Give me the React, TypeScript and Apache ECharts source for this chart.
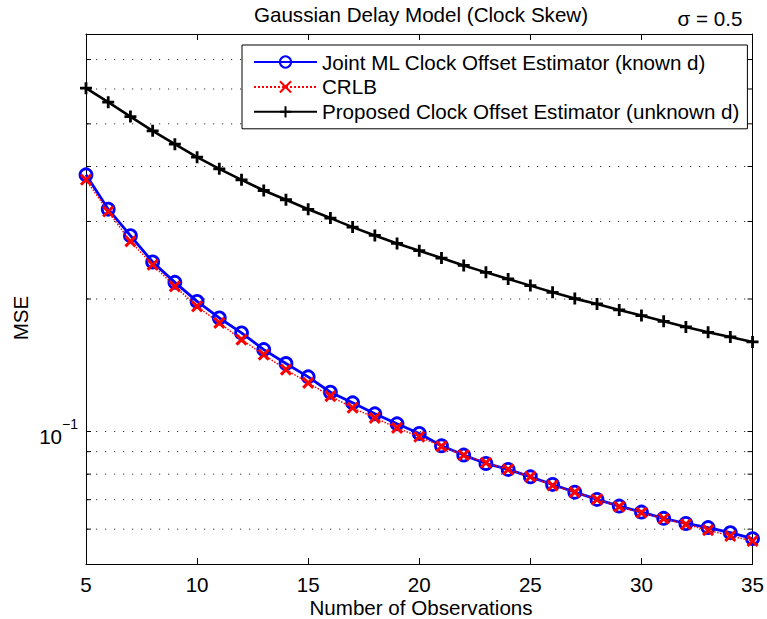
import React, { useEffect, useRef } from "react";
import * as echarts from "echarts";

const observations = [5, 6, 7, 8, 9, 10, 11, 12, 13, 14, 15, 16, 17, 18, 19, 20, 21, 22, 23, 24, 25, 26, 27, 28, 29, 30, 31, 32, 33, 34, 35];

const jointML = [0.383, 0.320, 0.2785, 0.2427, 0.2182, 0.1975, 0.1811, 0.1675, 0.1535, 0.1427, 0.1331, 0.1228, 0.1162, 0.1097, 0.1041, 0.0990, 0.0928, 0.0884, 0.0846, 0.0820, 0.0789, 0.0758, 0.0728, 0.0701, 0.0677, 0.0656, 0.0635, 0.0618, 0.0605, 0.0589, 0.0571];

const crlb = [0.3731, 0.3161, 0.2703, 0.2393, 0.2136, 0.1924, 0.1765, 0.1617, 0.1495, 0.1382, 0.1290, 0.1203, 0.1132, 0.1074, 0.1019, 0.0973, 0.0925, 0.0884, 0.0849, 0.0820, 0.0789, 0.0754, 0.0728, 0.0701, 0.0675, 0.0654, 0.0634, 0.0615, 0.0597, 0.0579, 0.0564];

const proposed = [0.6025, 0.560, 0.5194, 0.482, 0.4495, 0.4201, 0.3952, 0.3731, 0.3528, 0.3361, 0.3198, 0.3054, 0.2913, 0.2789, 0.2675, 0.2575, 0.2478, 0.2384, 0.2299, 0.2222, 0.2145, 0.2071, 0.2004, 0.1949, 0.1889, 0.1834, 0.1780, 0.1728, 0.1680, 0.1640, 0.1598];

const gridValues = [0.06, 0.07, 0.08, 0.09, 0.1, 0.2, 0.3, 0.4, 0.5, 0.6, 0.7];

const seriesNames = [
  "Joint ML Clock Offset Estimator (known d)",
  "CRLB",
  "Proposed Clock Offset Estimator (unknown d)",
];

const titleText = "Gaussian Delay Model (Clock Skew)";
const sigmaText = "σ = 0.5";
const xTitle = "Number of Observations";
const yTitle = "MSE";

const X_MIN = 5;
const X_MAX = 35;
const Y_MIN = 0.05;
const Y_MAX = 0.8;

const FONT = "'Liberation Sans', Arial, Helvetica, sans-serif";
const FS = 20.6;

export default function App() {
  const ref = useRef<HTMLDivElement>(null);

  useEffect(() => {
    if (!ref.current) return;
    const chart = echarts.init(ref.current, null, { renderer: "svg" });

    const toPairs = (arr: number[]) => observations.map((x, i) => [x, arr[i]]);

    const option: any = {
      animation: false,
      backgroundColor: "#fff",
      textStyle: { fontFamily: FONT, color: "#000" },
      grid: { left: 86, right: 11, top: 34, bottom: 55, containLabel: false },
      xAxis: [
        {
          type: "value",
          min: X_MIN,
          max: X_MAX,
          interval: 5,
          position: "bottom",
          axisLine: { show: true, onZero: false, lineStyle: { color: "#000", width: 1 } },
          axisTick: { show: true, inside: true, length: 6, lineStyle: { color: "#000" } },
          axisLabel: { show: true, margin: 10, fontSize: FS, fontFamily: FONT, color: "#000" },
          splitLine: { show: false },
        },
        {
          type: "value",
          min: X_MIN,
          max: X_MAX,
          interval: 5,
          position: "top",
          axisLine: { show: true, onZero: false, lineStyle: { color: "#000", width: 1 } },
          axisTick: { show: true, inside: true, length: 6, lineStyle: { color: "#000" } },
          axisLabel: { show: false },
          splitLine: { show: false },
        },
      ],
      yAxis: [
        {
          type: "log",
          logBase: 10,
          min: Y_MIN,
          max: Y_MAX,
          position: "left",
          axisLine: { show: true, onZero: false, lineStyle: { color: "#000", width: 1 } },
          axisTick: { show: false },
          splitLine: { show: false },
          minorTick: { show: false },
          axisLabel: {
            show: true,
            margin: 8,
            showMinLabel: true,
            showMaxLabel: true,
            formatter: (v: number) => (Math.abs(v - 0.1) < 1e-9 ? "{a|10}{b|−1}" : ""),
            rich: {
              a: { fontSize: FS, fontFamily: FONT, color: "#000", lineHeight: 30, verticalAlign: "bottom" },
              b: { fontSize: 14, fontFamily: FONT, color: "#000", lineHeight: 10, verticalAlign: "top" },
            },
          },
        },
        {
          type: "log",
          logBase: 10,
          min: Y_MIN,
          max: Y_MAX,
          position: "right",
          axisLine: { show: true, onZero: false, lineStyle: { color: "#000", width: 1 } },
          axisTick: { show: false },
          axisLabel: { show: false },
          splitLine: { show: false },
        },
      ],
      legend: {
        orient: "vertical",
        left: 242,
        top: 45,
        backgroundColor: "#fff",
        borderColor: "#000",
        borderWidth: 1,
        borderRadius: 0,
        padding: [6.5, 8, 6.5, 11],
        itemWidth: 63,
        itemHeight: 14,
        itemGap: 3.9,
        textStyle: { fontSize: FS, fontFamily: FONT, color: "#000" },
        data: seriesNames,
      },
      graphic: [
        {
          type: "text",
          x: 421,
          y: 14,
          style: { text: titleText, font: `${FS}px ${FONT}`, fill: "#000", textAlign: "center", textVerticalAlign: "middle" },
        },
        {
          type: "text",
          x: 710,
          y: 18,
          style: { text: sigmaText, font: `${FS}px ${FONT}`, fill: "#000", textAlign: "center", textVerticalAlign: "middle" },
        },
        {
          type: "text",
          x: 421,
          y: 607,
          style: { text: xTitle, font: `${FS}px ${FONT}`, fill: "#000", textAlign: "center", textVerticalAlign: "middle" },
        },
        {
          type: "text",
          x: 20,
          y: 318,
          rotation: Math.PI / 2,
          style: { text: yTitle, font: `${FS}px ${FONT}`, fill: "#000", textAlign: "center", textVerticalAlign: "middle" },
        },
      ],
      series: [
        {
          type: "custom",
          name: "grid",
          silent: true,
          z: 0,
          xAxisIndex: 0,
          yAxisIndex: 0,
          data: gridValues.map((v) => [X_MIN, v]),
          encode: { x: 0, y: 1 },
          renderItem: (params: any, api: any) => {
            const v = api.value(1);
            const a = api.coord([X_MIN, v]);
            const b = api.coord([X_MAX, v]);
            return {
              type: "group",
              children: [
                {
                  type: "line",
                  shape: { x1: a[0] + 1, y1: a[1], x2: b[0] - 1, y2: b[1] },
                  style: { stroke: "#333", lineWidth: 1, lineDash: [1.2, 7.8] },
                },
                {
                  type: "line",
                  shape: { x1: a[0], y1: a[1], x2: a[0] + 5, y2: a[1] },
                  style: { stroke: "#000", lineWidth: 1 },
                },
                {
                  type: "line",
                  shape: { x1: b[0] - 5, y1: b[1], x2: b[0], y2: b[1] },
                  style: { stroke: "#000", lineWidth: 1 },
                },
              ],
            };
          },
        },
        {
          type: "line",
          name: seriesNames[0],
          data: toPairs(jointML),
          z: 3,
          symbol: "circle",
          symbolSize: 12,
          showAllSymbol: true,
          lineStyle: { color: "#0000ff", width: 2.8 },
          itemStyle: { color: "rgba(255,255,255,0)", borderColor: "#0000ff", borderWidth: 2.8 },
        },
        {
          type: "line",
          name: seriesNames[1],
          data: toPairs(crlb),
          z: 4,
          symbol: "path://M0,0L10,10M10,0L0,10",
          symbolSize: 10,
          showAllSymbol: true,
          lineStyle: { color: "#ff0000", width: 1.5, type: "dotted" },
          itemStyle: { color: "#ff0000", borderColor: "#ff0000", borderWidth: 3 },
        },
        {
          type: "line",
          name: seriesNames[2],
          data: toPairs(proposed),
          z: 3,
          symbol: "path://M5,0L5,10M0,5L10,5",
          symbolSize: 12,
          showAllSymbol: true,
          lineStyle: { color: "#000", width: 2.6 },
          itemStyle: { color: "#000", borderColor: "#000", borderWidth: 2.8 },
        },
      ],
    };

    chart.setOption(option);
    return () => {
      chart.dispose();
    };
  }, []);

  return (
    <div
      ref={ref}
      style={{ position: "absolute", left: 0, top: 0, width: 767, height: 619, background: "#fff" }}
    />
  );
}
